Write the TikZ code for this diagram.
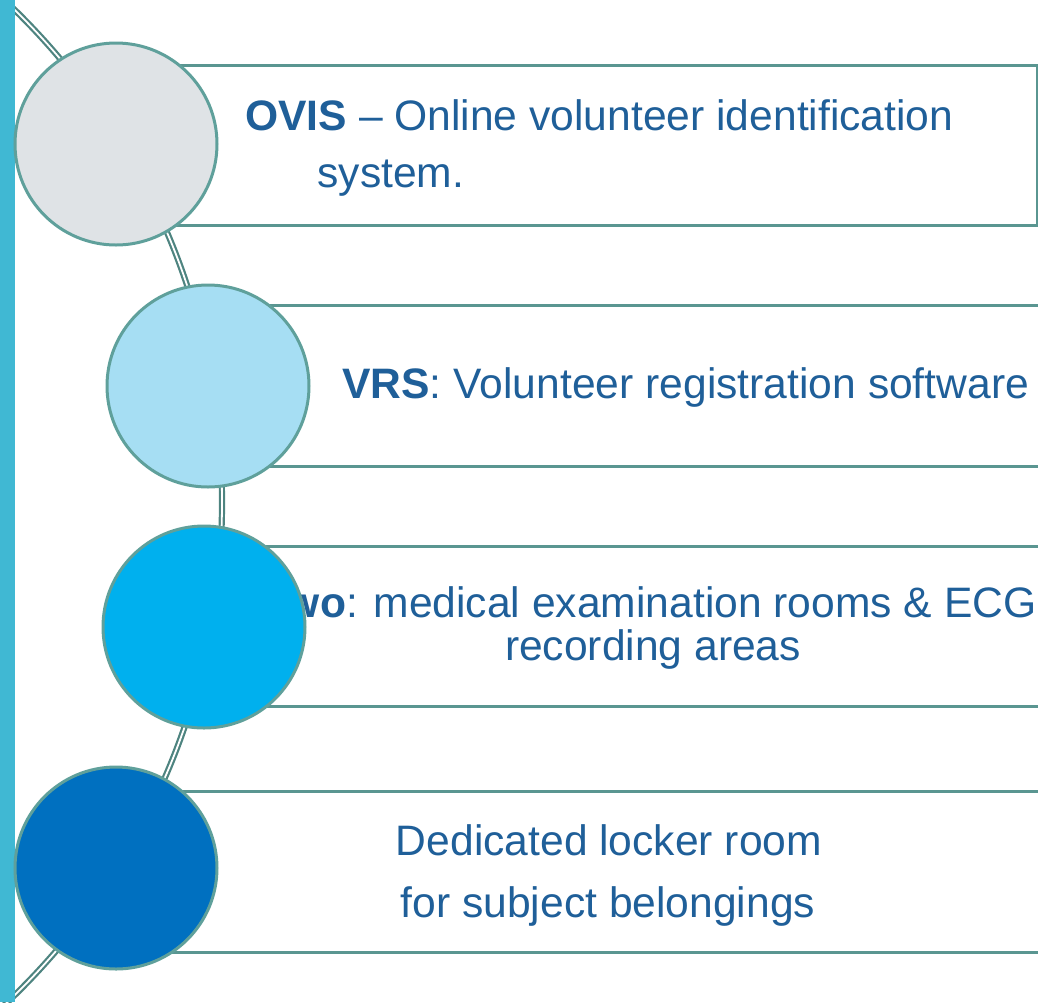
\documentclass[tikz,border=0pt]{standalone}
\usepackage{fontspec}
\setmainfont{Liberation Sans}
\definecolor{barra}{HTML}{40B8D3}
\definecolor{filo}{HTML}{4E8480}
\definecolor{bordo}{HTML}{5FA09B}
\definecolor{cornice}{HTML}{5A9691}
\definecolor{grigio}{HTML}{DFE3E6}
\definecolor{celeste}{HTML}{A6DEF3}
\definecolor{azzurro}{HTML}{00B0EE}
\definecolor{blu}{HTML}{0070C0}
\definecolor{blutesto}{HTML}{1F5F99}

\begin{document}
\begin{tikzpicture}[x=0.5pt,y=-0.5pt]
\tikzstyle{bolla} = [circle, draw=bordo, line width=1.5pt, minimum size=101pt, inner sep=0pt]
\tikzstyle{fascia} = [rectangle, draw=cornice, fill=white, line width=1.5pt, anchor=west, inner sep=0pt]
\tikzstyle{testo} = [text=blutesto, font=\fontsize{21.3}{26}\selectfont, inner sep=0pt]
\useasboundingbox (0,0) rectangle (1038,1002);
\clip (0,0) rectangle (1038,1002);
% the double line behind the circles
\coordinate (hub) at (-467,502.5);
\draw[filo, line width=1.1pt, double=white, double distance=0.9pt] (hub) circle [radius=344.5pt];
\fill[barra] (0,0) rectangle (15,1002);
% boxes
\node[fascia, minimum width=460pt, minimum height=80pt] (r1) at (116,145) {};
\node[fascia, minimum width=450pt, minimum height=80.5pt] (r2) at (208,385.5) {};
\node[fascia, minimum width=450pt, minimum height=80pt] (r3) at (204,626) {};
\node[fascia, minimum width=470pt, minimum height=80.5pt] (r4) at (116,871.5) {};
% texts
\node[testo, anchor=base west] (t1) at (245,130) {\textbf{OVIS} -- Online volunteer identification};
\node[testo, anchor=base west] (t2) at (317,187) {system.};
\node[testo, anchor=base west] (t3) at (342,398) {\textbf{VRS}: Volunteer registration software};
\node[testo, anchor=base east] (t4) at (1037,617) {\textbf{wo}: medical examination rooms \& ECG};
\node[testo, anchor=base] (t5) at (653,660) {recording areas};
\node[testo, anchor=base] (t6) at (609,855) {Dedicated locker room};
\node[testo, anchor=base] (t7) at (608,917) {for subject belongings};
% circles
\node[bolla, fill=grigio] (c1) at (116,144) {};
\node[bolla, fill=celeste] (c2) at (208,386) {};
\node[bolla, fill=azzurro] (c3) at (204,627) {};
\node[bolla, fill=blu] (c4) at (116,868) {};
\end{tikzpicture}
\end{document}
